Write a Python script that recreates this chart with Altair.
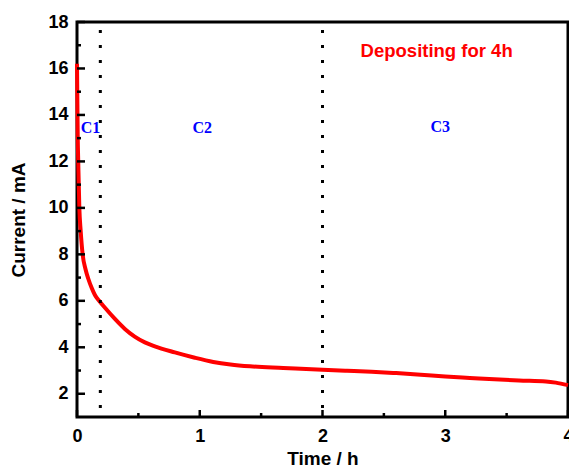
import altair as alt
import pandas as pd

# --- data ---
time_h = [0, 0.003, 0.006, 0.01, 0.019, 0.03, 0.046, 0.07, 0.092, 0.12, 0.146, 0.18,
          0.228, 0.309, 0.39, 0.47, 0.553, 0.634, 0.797, 0.96, 1.11, 1.25, 1.41, 1.68,
          2.0, 2.2, 2.4, 2.6, 2.8, 3.0, 3.2, 3.4, 3.6, 3.82, 3.9, 4.0]
current_ma = [16.2, 14.5, 13.0, 12.0, 10.0, 9.0, 8.0, 7.35, 6.95, 6.55, 6.25, 6.0,
              5.70, 5.22, 4.79, 4.46, 4.21, 4.04, 3.78, 3.55, 3.37, 3.26, 3.18, 3.11,
              3.03, 2.99, 2.95, 2.89, 2.82, 2.74, 2.68, 2.62, 2.57, 2.53, 2.48, 2.37]

stage_bounds = [0.19, 2.0]
stage_labels = ["C1", "C2", "C3"]
stage_label_x = [0.11, 1.02, 2.96]
stage_label_y = [13.43, 13.43, 13.5]
annotation = "Depositing for 4h"
annotation_x = [2.93]
annotation_y = [16.75]

x_major = [0, 1, 2, 3, 4]
x_minor = [0.5, 1.5, 2.5, 3.5]
y_major = [2, 4, 6, 8, 10, 12, 14, 16, 18]
y_minor = [3, 5, 7, 9, 11, 13, 15, 17]

W, H = 491, 395
FONT = "Liberation Sans"

xs = alt.Scale(domain=[0, 4], nice=False)
ys = alt.Scale(domain=[1, 18], nice=False)

df = pd.DataFrame({"t": time_h, "I": current_ma})

axis_common = dict(labelFont=FONT, labelFontSize=18, labelFontWeight="bold",
                   labelColor="black", titleFont=FONT, titleFontSize=19,
                   titleFontWeight="bold", titleColor="black", domain=False,
                   ticks=False, grid=False, labelFlush=False, labelOverlap=False)

line = alt.Chart(df).mark_line(color="#ff0000", strokeWidth=4, interpolate="monotone").encode(
    x=alt.X("t:Q", scale=xs, axis=alt.Axis(title="Time / h", values=x_major, format="d",
                                             labelPadding=10, titlePadding=4, **axis_common)),
    y=alt.Y("I:Q", scale=ys, axis=alt.Axis(title="Current / mA", values=y_major, format="d",
                                             labelPadding=9, titlePadding=19, **axis_common)),
)

bounds = alt.Chart(pd.DataFrame({"t": stage_bounds})).mark_rule(
    color="black", strokeWidth=3, strokeDash=[3, 12], strokeDashOffset=-8
).encode(x=alt.X("t:Q", scale=xs), y=alt.value(0), y2=alt.value(H))

xmaj = alt.Chart(pd.DataFrame({"t": x_major})).mark_rule(color="black", strokeWidth=2.5).encode(
    x=alt.X("t:Q", scale=xs), y=alt.value(H), y2=alt.value(H - 7))
xmin = alt.Chart(pd.DataFrame({"t": x_minor})).mark_rule(color="black", strokeWidth=2.5).encode(
    x=alt.X("t:Q", scale=xs), y=alt.value(H), y2=alt.value(H - 4))
ymaj = alt.Chart(pd.DataFrame({"v": y_major})).mark_rule(color="black", strokeWidth=2.5).encode(
    y=alt.Y("v:Q", scale=ys), x=alt.value(0), x2=alt.value(8))
ymin = alt.Chart(pd.DataFrame({"v": y_minor})).mark_rule(color="black", strokeWidth=2.5).encode(
    y=alt.Y("v:Q", scale=ys), x=alt.value(0), x2=alt.value(4))

stage_df = pd.DataFrame({"label": stage_labels, "x": stage_label_x, "y": stage_label_y})
stage_text = alt.Chart(stage_df).mark_text(
    font="Liberation Serif", fontSize=16, fontWeight="bold", color="#0000ff",
    align="center", baseline="middle"
).encode(x=alt.X("x:Q", scale=xs), y=alt.Y("y:Q", scale=ys), text="label:N")

ann_df = pd.DataFrame({"label": [annotation], "x": annotation_x, "y": annotation_y})
ann_text = alt.Chart(ann_df).mark_text(
    font=FONT, fontSize=18.5, fontWeight="bold", color="#ff0000",
    align="center", baseline="middle"
).encode(x=alt.X("x:Q", scale=xs), y=alt.Y("y:Q", scale=ys), text="label:N")

chart = alt.layer(line, bounds, xmaj, xmin, ymaj, ymin, stage_text, ann_text).properties(
    width=W, height=H,
    autosize=alt.AutoSizeParams(type="none"),
    padding={"left": 77, "top": 22, "right": 1, "bottom": 51},
    background="white",
).configure_view(stroke="black", strokeWidth=3)

chart.save("out.html", embed_options={"renderer": "svg", "actions": False})
